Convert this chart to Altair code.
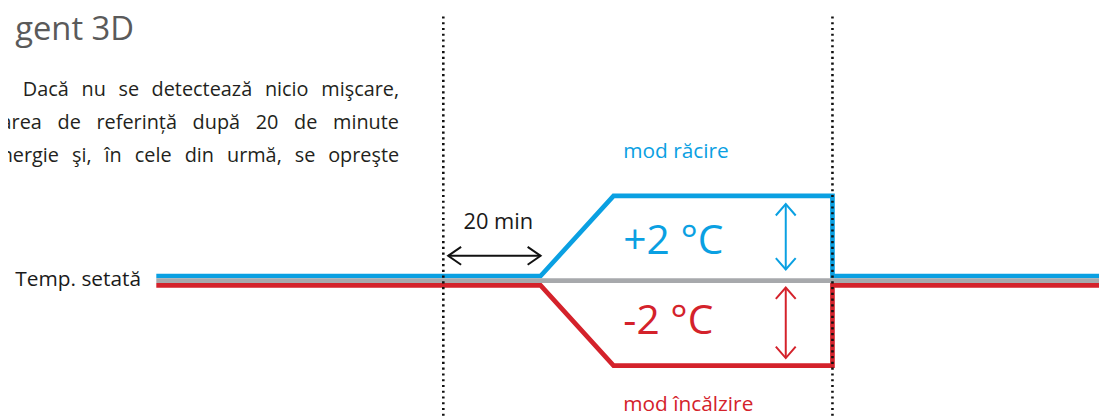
import altair as alt
import pandas as pd

# ---- data (minutes after last detected movement, temperature offset in °C) ----
line_t = [-59, 20, 35, 80, 80, 135]
cool_temp = [0, 0, 2, 2, 0, 0]
heat_temp = [0, 0, -2, -2, 0, 0]
set_t = [-59, 135]
set_temp = [0, 0]
marker_t = [0, 80]
marker_top, marker_bottom = 6.59, -3.4

delay_arrow_t = [1, 20]          # "20 min" arrow
delay_arrow_temp = 0.62
cool_arrow = {"t": 70.4, "from": 0.28, "to": 1.91}
heat_arrow = {"t": 70.4, "from": -0.17, "to": -1.93}

labels_text = ["20 min", "+2 °C", "-2 °C", "mod răcire", "mod încălzire"]
labels_t = [11.3, 37.0, 37.0, 37.0, 37.0]
labels_temp = [1.29, 0.67, -1.33, 3.07, -3.24]
labels_size = [22, 41, 41, 21, 21]
labels_color = ["#1a1a1a", "#0AA0E2", "#D4222B", "#0AA0E2", "#D4222B"]
labels_align = ["center", "left", "left", "left", "left"]

set_label = "Temp. setată"
title_text = "gent 3D"
# paragraph lines (justified block, clipped at the left edge)
para_lines = [
    "Dacă nu se detectează nicio mişcare,",
    "area de referință după 20 de minute",
    "nergie şi, în cele din urmă, se opreşte",
]
para_left_px = [22.7, 0.5, 0.5]
para_right_px = 402
para_temp = [4.6, 3.78, 2.96]
PARA_SIZE = 20

BLUE = "#0AA0E2"
RED = "#D4222B"
GRAY = "#A7A9AC"
FONT = "Open Sans"

# approximate Open Sans advance widths (em) used to justify the paragraph
EM = {
    "a": .556, "b": .613, "c": .480, "d": .613, "e": .561, "f": .336, "g": .546, "h": .614,
    "i": .259, "j": .259, "k": .529, "l": .259, "m": .934, "n": .614, "o": .600, "p": .613,
    "q": .613, "r": .409, "s": .476, "t": .353, "u": .614, "v": .500, "w": .778, "x": .523,
    "y": .500, "z": .469, "D": .738, ",": .248, ".": .266,
    "ă": .556, "ş": .476, "ț": .353, "î": .259, "â": .556,
}

def word_w(w):
    return sum(EM.get(ch, .571) for ch in w) * PARA_SIZE

# ---- scales (page geometry) ----
W, H = 1107, 416
PX_PER_MIN, T0_PX = 4.9, 446.5
PX_PER_DEG, ZERO_PY = 40.4, 281.2
xs = alt.Scale(domain=[(0 - T0_PX) / PX_PER_MIN, (W - T0_PX) / PX_PER_MIN], nice=False, zero=False)
ys = alt.Scale(domain=[-(H - ZERO_PY) / PX_PER_DEG, ZERO_PY / PX_PER_DEG], nice=False, zero=False)

def px_to_t(px):
    return (px - T0_PX) / PX_PER_MIN

def X(f="t"):
    return alt.X(f"{f}:Q", scale=xs, axis=None)

def Y(f="temp"):
    return alt.Y(f"{f}:Q", scale=ys, axis=None)

def path_df(ts, vs):
    return pd.DataFrame({"t": ts, "temp": vs, "i": range(len(ts))})

cool = alt.Chart(path_df(line_t, cool_temp)).mark_line(
    color=BLUE, strokeWidth=4.7, strokeJoin="miter", yOffset=-4.7
).encode(x=X(), y=Y(), order="i:Q")
heat = alt.Chart(path_df(line_t, heat_temp)).mark_line(
    color=RED, strokeWidth=4.7, strokeJoin="miter", yOffset=4.7
).encode(x=X(), y=Y(), order="i:Q")
setp = alt.Chart(path_df(set_t, set_temp)).mark_line(
    color=GRAY, strokeWidth=4.8
).encode(x=X(), y=Y(), order="i:Q")

markers = alt.Chart(pd.DataFrame({"t": marker_t, "top": marker_top, "bottom": marker_bottom})).mark_rule(
    color="#111111", strokeWidth=2.6, strokeDash=[2.2, 3.6]
).encode(x=X(), y=Y("top"), y2="bottom:Q")

# horizontal "20 min" arrow
harrow_df = pd.DataFrame({"t": [delay_arrow_t[0]], "t2": [delay_arrow_t[1]], "temp": [delay_arrow_temp]})
harrow = alt.Chart(harrow_df).mark_rule(color="#111111", strokeWidth=2).encode(x=X(), x2="t2:Q", y=Y())
hl = alt.Chart(pd.DataFrame({"t": [delay_arrow_t[0]], "temp": [delay_arrow_temp]})).mark_point(
    shape="M1.45,-1L0,0L1.45,1", filled=False, size=324, strokeWidth=2, color="#111111", opacity=1
).encode(x=X(), y=Y())
hr = alt.Chart(pd.DataFrame({"t": [delay_arrow_t[1]], "temp": [delay_arrow_temp]})).mark_point(
    shape="M-1.45,-1L0,0L-1.45,1", filled=False, size=324, strokeWidth=2, color="#111111", opacity=1
).encode(x=X(), y=Y())

def varrow(a, color):
    df = pd.DataFrame({"t": [a["t"]], "y1": [a["from"]], "y2": [a["to"]]})
    top = max(a["from"], a["to"])
    bot = min(a["from"], a["to"])
    shaft = alt.Chart(df).mark_rule(color=color, strokeWidth=2).encode(x=X(), y=Y("y1"), y2="y2:Q")
    up = alt.Chart(pd.DataFrame({"t": [a["t"]], "temp": [top]})).mark_point(
        shape="M-1,1.15L0,0L1,1.15", filled=False, size=400, strokeWidth=2, color=color, opacity=1
    ).encode(x=X(), y=Y())
    down = alt.Chart(pd.DataFrame({"t": [a["t"]], "temp": [bot]})).mark_point(
        shape="M-1,-1.15L0,0L1,-1.15", filled=False, size=400, strokeWidth=2, color=color, opacity=1
    ).encode(x=X(), y=Y())
    return shaft + up + down

texts = []
for txt, t, v, sz, col, al in zip(labels_text, labels_t, labels_temp, labels_size, labels_color, labels_align):
    texts.append(
        alt.Chart(pd.DataFrame({"t": [t], "temp": [v], "label": [txt]})).mark_text(
            align=al, baseline="alphabetic", font=FONT, fontSize=sz, color=col
        ).encode(x=X(), y=Y(), text="label:N")
    )

set_txt = alt.Chart(pd.DataFrame({"t": [px_to_t(142)], "temp": [-0.14], "label": [set_label]})).mark_text(
    align="right", baseline="alphabetic", font=FONT, fontSize=21, color="#1a1a1a"
).encode(x=X(), y=Y(), text="label:N")

title = alt.Chart(pd.DataFrame({"t": [px_to_t(135)], "temp": [6.0], "label": [title_text]})).mark_text(
    align="right", baseline="alphabetic", font=FONT, fontSize=33, color="#5a5a5a"
).encode(x=X(), y=Y(), text="label:N")

# justified paragraph: words spread evenly between the left and right edges
para_rows = []
for line, left, v in zip(para_lines, para_left_px, para_temp):
    words = line.split(" ")
    widths = [word_w(w) for w in words]
    gap = (para_right_px - left - sum(widths)) / (len(words) - 1)
    x = left
    for w, wd in zip(words, widths):
        para_rows.append({"t": px_to_t(x + wd / 2), "temp": v, "label": w})
        x += wd + gap

para = alt.Chart(pd.DataFrame(para_rows)).mark_text(
    align="center", baseline="alphabetic", font=FONT, fontSize=PARA_SIZE, color="#231F20"
).encode(x=X(), y=Y(), text="label:N")

chart = alt.layer(
    cool, heat, setp, markers, harrow, hl, hr,
    varrow(cool_arrow, BLUE), varrow(heat_arrow, RED),
    *texts, set_txt, title, para,
).properties(
    width=W, height=H, autosize="none",
    padding={"left": -8, "top": -8, "right": 0, "bottom": 0},
).configure_view(stroke=None)

chart.save("out.html", embed_options={"renderer": "svg", "actions": False})
